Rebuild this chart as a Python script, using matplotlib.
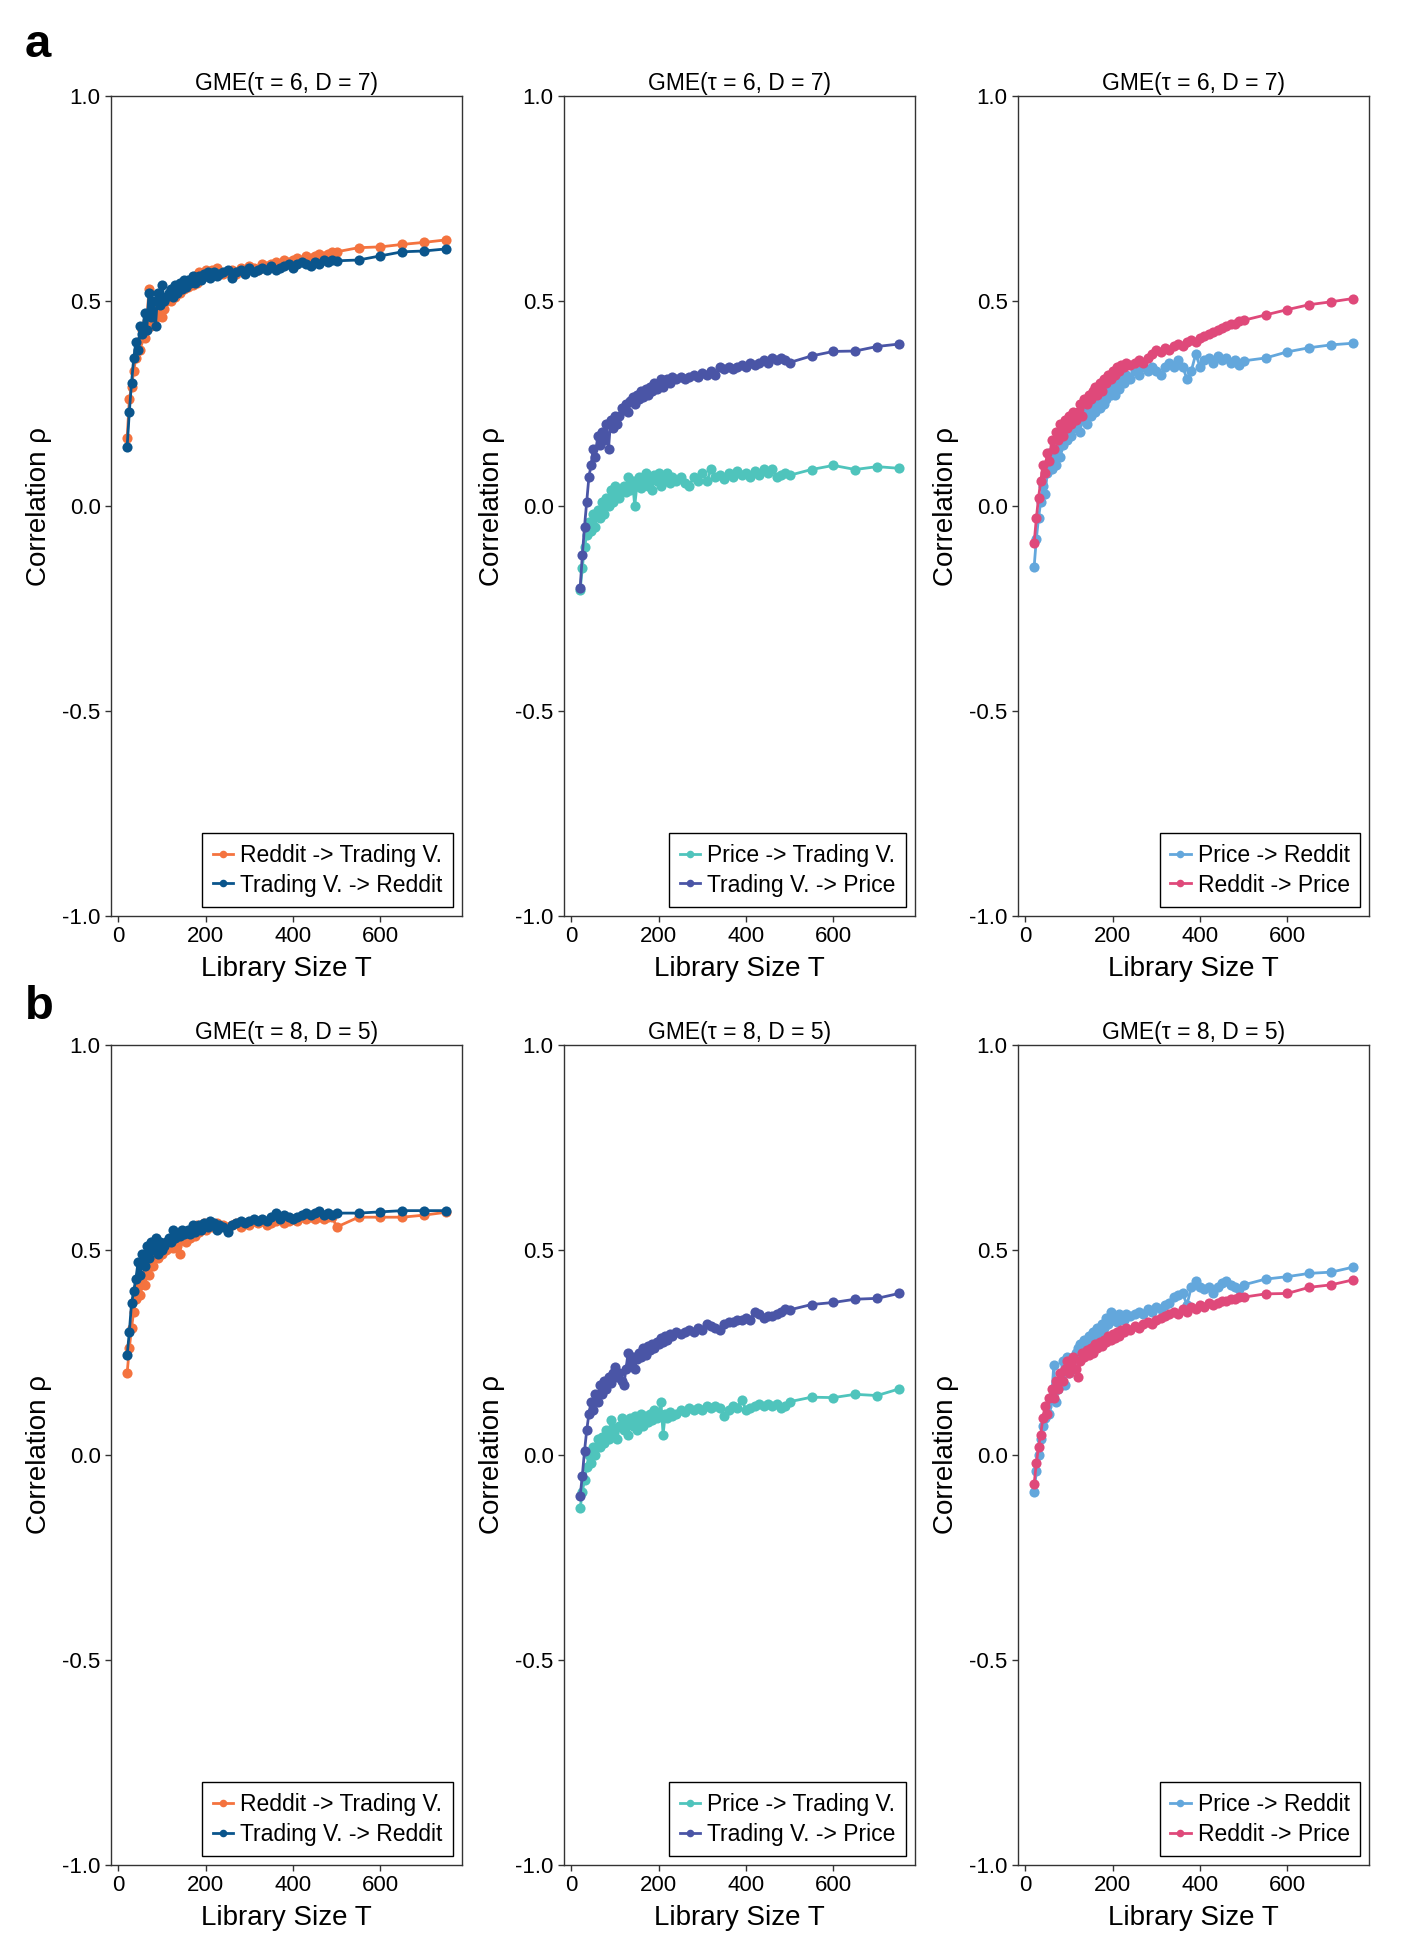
import matplotlib
matplotlib.use("Agg")
import matplotlib.pyplot as plt

plt.rcParams["font.family"] = ["Liberation Sans", "DejaVu Sans"]

# library sizes T (same grid for every curve)
LIB_SIZE = [
    20, 25, 30, 35, 40, 45, 50, 55, 60, 65, 70, 75, 80, 85, 90, 95, 100, 105, 110, 115,
    120, 125, 130, 135, 140, 145, 150, 155, 160, 165, 170, 175, 180, 185, 190, 195, 200,
    205, 210, 215, 220, 225, 230,
    240, 250, 260, 270, 280, 290, 300, 310, 320, 330, 340, 350, 360, 370, 380, 390, 400,
    410, 420, 430, 440, 450, 460, 470, 480, 490, 500,
    550, 600, 650, 700, 750,
]

# ---- row a: tau = 6, D = 7 ----
A_REDDIT_TV = [
    0.165, 0.26, 0.29, 0.33, 0.36, 0.40, 0.38, 0.43, 0.41, 0.45, 0.53, 0.44, 0.49, 0.46, 0.47,
    0.50, 0.46, 0.48, 0.50, 0.51, 0.50, 0.52, 0.51, 0.53, 0.52, 0.54, 0.53, 0.545, 0.535, 0.55,
    0.54, 0.56, 0.545, 0.57, 0.555, 0.565, 0.575, 0.56, 0.57, 0.575, 0.565, 0.58, 0.57,
    0.565, 0.57, 0.575, 0.565, 0.58, 0.575, 0.585, 0.58, 0.575, 0.59, 0.585, 0.59, 0.595, 0.59,
    0.60, 0.595, 0.60, 0.605, 0.60, 0.61, 0.605, 0.61, 0.615, 0.61, 0.615, 0.62, 0.62,
    0.63, 0.632, 0.638, 0.643, 0.649,
]
A_TV_REDDIT = [
    0.145, 0.23, 0.30, 0.36, 0.40, 0.38, 0.44, 0.42, 0.47, 0.43, 0.52, 0.46, 0.50, 0.44, 0.52,
    0.49, 0.54, 0.50, 0.51, 0.52, 0.53, 0.51, 0.54, 0.52, 0.545, 0.53, 0.55, 0.535, 0.55, 0.545,
    0.56, 0.545, 0.555, 0.56, 0.55, 0.565, 0.56, 0.57, 0.555, 0.565, 0.57, 0.56, 0.565,
    0.57, 0.575, 0.555, 0.57, 0.575, 0.565, 0.58, 0.57, 0.575, 0.58, 0.575, 0.585, 0.575, 0.58,
    0.585, 0.59, 0.58, 0.59, 0.595, 0.59, 0.585, 0.595, 0.59, 0.60, 0.595, 0.60, 0.598,
    0.60, 0.61, 0.62, 0.622, 0.627,
]
A_PRICE_TV = [
    -0.205, -0.15, -0.10, -0.07, -0.04, -0.06, -0.02, -0.05, -0.01, -0.03, 0.01, -0.02, 0.02,
    0.0, 0.04, 0.01, 0.05, 0.03, 0.02, 0.04, 0.05, 0.035, 0.07, 0.04, 0.06, 0.0, 0.05, 0.07,
    0.045, 0.06, 0.08, 0.05, 0.065, 0.04, 0.075, 0.06, 0.08, 0.05, 0.07, 0.06, 0.08, 0.055, 0.07,
    0.06, 0.07, 0.055, 0.05, 0.07, 0.06, 0.08, 0.06, 0.09, 0.07, 0.075, 0.065, 0.08, 0.07,
    0.085, 0.075, 0.08, 0.07, 0.085, 0.075, 0.09, 0.08, 0.09, 0.07, 0.075, 0.08, 0.075,
    0.089, 0.099, 0.089, 0.096, 0.092,
]
A_TV_PRICE = [
    -0.20, -0.12, -0.05, 0.01, 0.07, 0.10, 0.14, 0.12, 0.17, 0.15, 0.18, 0.16, 0.20, 0.14, 0.21,
    0.19, 0.22, 0.20, 0.22, 0.24, 0.235, 0.25, 0.23, 0.255, 0.265, 0.25, 0.27, 0.26, 0.28, 0.265,
    0.285, 0.27, 0.29, 0.28, 0.30, 0.285, 0.295, 0.31, 0.29, 0.305, 0.31, 0.30, 0.315,
    0.31, 0.315, 0.31, 0.315, 0.32, 0.315, 0.325, 0.32, 0.33, 0.32, 0.34, 0.335, 0.34, 0.335,
    0.34, 0.345, 0.34, 0.35, 0.345, 0.35, 0.355, 0.35, 0.36, 0.355, 0.36, 0.355, 0.35,
    0.366, 0.377, 0.378, 0.389, 0.395,
]
A_PRICE_REDDIT = [
    -0.148, -0.08, -0.03, 0.01, 0.05, 0.03, 0.08, 0.13, 0.09, 0.12, 0.10, 0.14, 0.12, 0.15, 0.17,
    0.16, 0.19, 0.17, 0.20, 0.19, 0.22, 0.18, 0.21, 0.23, 0.20, 0.24, 0.22, 0.25, 0.23, 0.26,
    0.24, 0.27, 0.25, 0.26, 0.28, 0.27, 0.29, 0.27, 0.30, 0.285, 0.31, 0.30, 0.32,
    0.31, 0.33, 0.32, 0.34, 0.33, 0.34, 0.33, 0.32, 0.34, 0.35, 0.34, 0.355, 0.34, 0.31,
    0.33, 0.37, 0.34, 0.355, 0.36, 0.35, 0.365, 0.355, 0.36, 0.35, 0.355, 0.345, 0.354,
    0.361, 0.376, 0.386, 0.393, 0.397,
]
A_REDDIT_PRICE = [
    -0.09, -0.03, 0.02, 0.06, 0.10, 0.08, 0.13, 0.11, 0.16, 0.14, 0.18, 0.16, 0.20, 0.17, 0.21,
    0.19, 0.22, 0.20, 0.23, 0.21, 0.23, 0.25, 0.22, 0.26, 0.25, 0.27, 0.26, 0.28, 0.29, 0.27,
    0.30, 0.28, 0.31, 0.30, 0.32, 0.31, 0.33, 0.32, 0.34, 0.33, 0.345, 0.34, 0.35,
    0.345, 0.35, 0.355, 0.35, 0.36, 0.37, 0.38, 0.375, 0.385, 0.38, 0.39, 0.395, 0.39, 0.40,
    0.405, 0.40, 0.41, 0.415, 0.42, 0.425, 0.43, 0.435, 0.44, 0.445, 0.445, 0.45, 0.453,
    0.466, 0.479, 0.491, 0.498, 0.506,
]

# ---- row b: tau = 8, D = 5 ----
B_REDDIT_TV = [
    0.20, 0.26, 0.31, 0.35, 0.38, 0.41, 0.39, 0.43, 0.415, 0.45, 0.44, 0.47, 0.46, 0.49, 0.48,
    0.50, 0.49, 0.51, 0.50, 0.505, 0.51, 0.505, 0.52, 0.51, 0.49, 0.525, 0.53, 0.52, 0.54, 0.53,
    0.55, 0.535, 0.56, 0.545, 0.555, 0.565, 0.55, 0.56, 0.565, 0.555, 0.56, 0.565, 0.555,
    0.56, 0.555, 0.56, 0.565, 0.555, 0.565, 0.56, 0.57, 0.565, 0.57, 0.56, 0.565, 0.57, 0.575,
    0.565, 0.57, 0.575, 0.57, 0.58, 0.575, 0.58, 0.575, 0.58, 0.575, 0.58, 0.58, 0.556,
    0.58, 0.58, 0.58, 0.585, 0.592,
]
B_TV_REDDIT = [
    0.244, 0.30, 0.37, 0.40, 0.43, 0.47, 0.44, 0.49, 0.46, 0.51, 0.48, 0.52, 0.50, 0.53, 0.49,
    0.52, 0.50, 0.51, 0.52, 0.53, 0.52, 0.55, 0.53, 0.54, 0.535, 0.55, 0.54, 0.545, 0.55, 0.54,
    0.56, 0.545, 0.555, 0.56, 0.55, 0.565, 0.56, 0.555, 0.57, 0.56, 0.565, 0.55, 0.56,
    0.555, 0.545, 0.56, 0.565, 0.57, 0.565, 0.57, 0.575, 0.57, 0.575, 0.57, 0.58, 0.59, 0.575,
    0.585, 0.58, 0.575, 0.58, 0.585, 0.59, 0.585, 0.59, 0.595, 0.585, 0.59, 0.585, 0.59,
    0.59, 0.593, 0.596, 0.596, 0.596,
]
B_PRICE_TV = [
    -0.13, -0.09, -0.06, -0.03, 0.0, -0.02, 0.02, 0.0, 0.04, 0.02, 0.045, 0.03, 0.06, 0.04, 0.085,
    0.05, 0.065, 0.04, 0.07, 0.09, 0.06, 0.08, 0.05, 0.09, 0.07, 0.095, 0.06, 0.085, 0.10, 0.07,
    0.095, 0.08, 0.10, 0.085, 0.11, 0.09, 0.10, 0.13, 0.05, 0.10, 0.09, 0.105, 0.095,
    0.10, 0.11, 0.105, 0.115, 0.11, 0.115, 0.11, 0.12, 0.115, 0.12, 0.115, 0.095, 0.11, 0.12,
    0.115, 0.135, 0.11, 0.115, 0.12, 0.125, 0.12, 0.125, 0.12, 0.125, 0.115, 0.12, 0.13,
    0.141, 0.14, 0.148, 0.145, 0.161,
]
B_TV_PRICE = [
    -0.10, -0.05, 0.01, 0.06, 0.10, 0.13, 0.11, 0.15, 0.13, 0.17, 0.15, 0.18, 0.16, 0.19, 0.175,
    0.20, 0.215, 0.19, 0.20, 0.18, 0.17, 0.21, 0.25, 0.22, 0.24, 0.21, 0.235, 0.25, 0.24, 0.26,
    0.245, 0.265, 0.255, 0.27, 0.26, 0.275, 0.27, 0.285, 0.275, 0.29, 0.28, 0.295, 0.29,
    0.30, 0.295, 0.30, 0.305, 0.30, 0.31, 0.305, 0.32, 0.315, 0.31, 0.305, 0.32, 0.325, 0.325,
    0.33, 0.33, 0.335, 0.33, 0.35, 0.345, 0.335, 0.34, 0.34, 0.345, 0.35, 0.355, 0.354,
    0.367, 0.372, 0.38, 0.382, 0.394,
]
B_PRICE_REDDIT = [
    -0.09, -0.04, 0.0, 0.04, 0.07, 0.09, 0.12, 0.10, 0.14, 0.22, 0.13, 0.16, 0.18, 0.23, 0.17,
    0.24, 0.20, 0.22, 0.21, 0.25, 0.26, 0.27, 0.25, 0.28, 0.27, 0.29, 0.28, 0.30, 0.29, 0.31,
    0.30, 0.32, 0.31, 0.335, 0.32, 0.35, 0.33, 0.34, 0.325, 0.345, 0.34, 0.33, 0.345,
    0.34, 0.345, 0.35, 0.345, 0.355, 0.35, 0.36, 0.355, 0.365, 0.37, 0.385, 0.39, 0.395, 0.366,
    0.41, 0.425, 0.41, 0.405, 0.41, 0.395, 0.41, 0.42, 0.425, 0.415, 0.41, 0.405, 0.415,
    0.429, 0.435, 0.443, 0.446, 0.458,
]
B_REDDIT_PRICE = [
    -0.07, -0.02, 0.02, 0.05, 0.09, 0.12, 0.10, 0.14, 0.16, 0.14, 0.18, 0.16, 0.20, 0.18, 0.21,
    0.23, 0.20, 0.22, 0.24, 0.21, 0.19, 0.23, 0.25, 0.24, 0.255, 0.245, 0.26, 0.25, 0.27, 0.26,
    0.275, 0.265, 0.28, 0.275, 0.29, 0.28, 0.295, 0.285, 0.30, 0.29, 0.305, 0.30, 0.31,
    0.305, 0.315, 0.31, 0.32, 0.325, 0.32, 0.33, 0.335, 0.34, 0.345, 0.35, 0.345, 0.355, 0.35,
    0.36, 0.355, 0.365, 0.36, 0.37, 0.365, 0.37, 0.375, 0.375, 0.38, 0.38, 0.385, 0.385,
    0.393, 0.394, 0.409, 0.415, 0.427,
]

ROW_TITLES = ["GME(τ = 6, D = 7)", "GME(τ = 8, D = 5)"]
ROW_LETTERS = ["a", "b"]

PAIR_LABELS = [
    ["Reddit -> Trading V.", "Trading V. -> Reddit"],
    ["Price -> Trading V.", "Trading V. -> Price"],
    ["Price -> Reddit", "Reddit -> Price"],
]
PAIR_COLORS = [
    ["#F4733F", "#0A558C"],
    ["#4FC4BC", "#4A55A6"],
    ["#63A7DC", "#DF497A"],
]
ROW_DATA = [
    [(A_REDDIT_TV, A_TV_REDDIT), (A_PRICE_TV, A_TV_PRICE), (A_PRICE_REDDIT, A_REDDIT_PRICE)],
    [(B_REDDIT_TV, B_TV_REDDIT), (B_PRICE_TV, B_TV_PRICE), (B_PRICE_REDDIT, B_REDDIT_PRICE)],
]

Y_TICKS = [-1.0, -0.5, 0.0, 0.5, 1.0]
Y_TICK_LABELS = ["-1.0", "-0.5", "0.0", "0.5", "1.0"]
X_TICKS = [0, 200, 400, 600]

W, H = 1413, 1954
COL_LEFT = [111, 564, 1018]
ROW_TOP = [96, 1045]
AX_W, AX_H = 351, 820
LETTER_BASE = [57, 1019]

fig = plt.figure(figsize=(W / 100, H / 100), dpi=100)

for r in range(2):
    for c in range(3):
        left = COL_LEFT[c] / W
        bottom = 1 - (ROW_TOP[r] + AX_H) / H
        ax = fig.add_axes([left, bottom, AX_W / W, AX_H / H])
        for series, label, color in zip(ROW_DATA[r][c], PAIR_LABELS[c], PAIR_COLORS[c]):
            assert len(series) == len(LIB_SIZE), (r, c, label, len(series))
            ax.plot(LIB_SIZE, series, "-o", color=color, lw=2.0, ms=7.3,
                    markeredgewidth=0, label=label)
        ax.set_ylim(-1, 1)
        ax.set_xlim(-17, 787)
        ax.set_yticks(Y_TICKS)
        ax.set_yticklabels(Y_TICK_LABELS)
        ax.set_xticks(X_TICKS)
        ax.tick_params(direction="out", length=4.5, width=1, labelsize=16,
                       color="#333333", pad=3)
        for sp in ax.spines.values():
            sp.set_color("#333333")
            sp.set_linewidth(1.0)
        ax.set_title(ROW_TITLES[r], fontsize=16.5, pad=4)
        ax.set_xlabel("Library Size T", fontsize=20, labelpad=6)
        ax.set_ylabel("Correlation ρ", fontsize=20, labelpad=7)
        leg = ax.legend(loc="lower right", fontsize=16.5, frameon=True, fancybox=False,
                        edgecolor="black", framealpha=1, borderpad=0.45,
                        handlelength=0.9, handletextpad=0.3, labelspacing=0.3,
                        borderaxespad=0.4, markerscale=0.75)
        leg.get_frame().set_linewidth(1.0)

for r in range(2):
    fig.text(25 / W, 1 - LETTER_BASE[r] / H, ROW_LETTERS[r], fontsize=34,
             fontweight="bold", ha="left", va="baseline")

fig.savefig("out.png", dpi=100)
